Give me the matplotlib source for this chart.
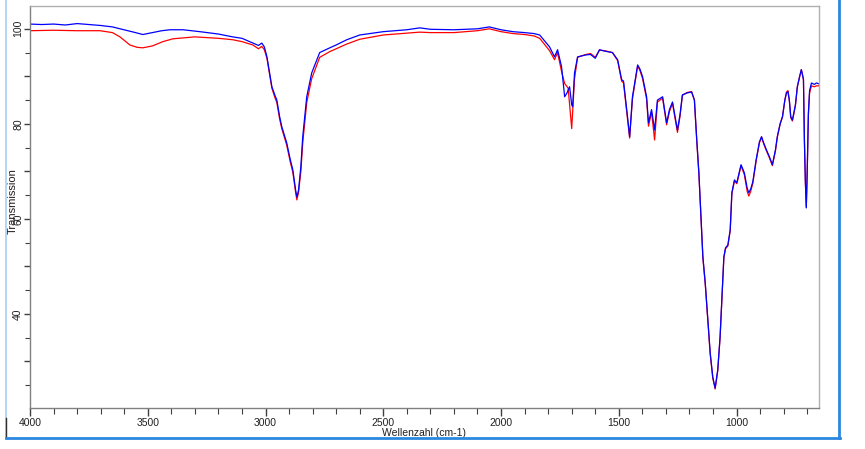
import matplotlib
matplotlib.use("Agg")
import matplotlib.pyplot as plt
from matplotlib.lines import Line2D
from matplotlib.ticker import MultipleLocator, FuncFormatter

# ---- data (wavenumber cm-1, transmission %) ----
blue_wn = [4000, 3950, 3900, 3850, 3800, 3750, 3700, 3650, 3600, 3560, 3521, 3480, 3440, 3406,
           3350, 3279, 3200, 3139, 3100, 3054, 3030, 3016, 3005, 2994, 2973, 2960, 2952, 2940,
           2931, 2910, 2895, 2884, 2872, 2867, 2860, 2850, 2842, 2825, 2804, 2770, 2727, 2700,
           2655, 2600, 2500, 2400, 2345, 2300, 2200, 2100, 2050, 2000, 1950, 1900, 1860, 1836,
           1794, 1773, 1760, 1743, 1730, 1720, 1709, 1700, 1696, 1688, 1675, 1640, 1620, 1600,
           1582, 1560, 1527, 1505, 1488, 1480, 1463, 1454, 1442, 1420, 1410, 1399, 1382, 1374,
           1361, 1348, 1336, 1314, 1297, 1285, 1272, 1251, 1240, 1230, 1210, 1191, 1179,
           1169, 1160, 1150, 1143, 1133, 1122, 1112, 1101, 1091, 1080, 1070, 1061, 1054, 1047,
           1037, 1027, 1020, 1009, 999, 990, 981, 967, 955, 948, 940, 931, 917, 903, 894, 885, 873,
           860, 848, 835, 827, 815, 805, 795, 788, 782, 776, 770, 763, 756, 750, 742, 732, 725,
           720, 716, 712, 708, 704, 700, 695, 690, 682, 670, 661, 650]
blue_t = [101.0, 100.9, 101.0, 100.8, 101.1, 100.9, 100.7, 100.4, 99.8, 99.3, 98.8, 99.2, 99.6, 99.8,
          99.8, 99.4, 98.9, 98.3, 98.0, 97.0, 96.5, 97.0, 96.2, 94.1, 87.8, 86.0, 85.0, 81.5,
          79.4, 76.0, 72.5, 70.3, 66.0, 64.6, 66.0, 71.0, 77.3, 85.7, 90.7, 95.0, 96.0, 96.6,
          97.7, 98.7, 99.4, 99.8, 100.2, 99.9, 99.8, 100.0, 100.4, 99.8, 99.4, 99.2, 99.0, 98.7,
          96.2, 94.1, 95.6, 92.0, 85.7, 86.5, 87.8, 84.0, 83.6, 90.7, 94.1, 94.5, 94.6, 93.8,
          95.6, 95.3, 95.0, 93.5, 89.3, 89.0, 81.5, 77.3, 85.7, 92.4, 91.5, 89.9, 85.7, 80.2,
          83.0, 78.7, 85.0, 85.7, 80.2, 83.0, 84.6, 78.7, 82.0, 86.1, 86.5, 86.7, 85.0,
          76.6, 69.7, 59.2, 52.0, 46.5, 38.7, 31.8, 26.7, 24.4, 28.2, 35.2, 44.4, 52.0, 53.9,
          54.5, 57.7, 65.5, 68.2, 67.6, 69.5, 71.4, 69.7, 66.5, 65.5, 66.3, 67.8, 72.4, 76.2, 77.3, 76.0, 74.5,
          73.0, 71.4, 74.5, 77.3, 80.0, 81.5, 85.0, 86.5, 86.8, 85.0, 81.5, 80.8, 82.5, 84.0, 87.8, 90.0, 91.4,
          90.3, 89.3, 76.6, 68.0, 62.3, 70.0, 82.3, 87.0, 88.6, 88.3, 88.6, 88.4]

red_wn = [4000, 3900, 3800, 3703, 3650, 3618, 3576, 3545, 3521, 3480, 3436, 3393, 3300, 3200,
          3139, 3100, 3054, 3030, 3016, 3005, 2994, 2973, 2960, 2952, 2940, 2931, 2910, 2895,
          2884, 2872, 2867, 2860, 2850, 2842, 2825, 2804, 2770, 2727, 2700, 2655, 2600, 2500,
          2400, 2345, 2300, 2200, 2100, 2050, 2000, 1950, 1900, 1860, 1836, 1794, 1773, 1760,
          1743, 1730, 1715, 1700, 1688, 1675, 1640, 1620, 1600, 1582, 1560, 1527, 1505, 1488,
          1480, 1463, 1454, 1442, 1420, 1410, 1399, 1382, 1374, 1361, 1348, 1336, 1314, 1297,
          1285, 1272, 1251, 1240, 1230, 1210, 1191, 1179,
          1169, 1160, 1150, 1143, 1133, 1122, 1112, 1101, 1091, 1080, 1070, 1061, 1054, 1047,
          1037, 1027, 1020, 1009, 999, 990, 981, 967, 955, 948, 940, 931, 917, 903, 894, 885, 873,
          860, 848, 835, 827, 815, 805,
          795, 788, 782, 776, 770, 763, 756, 750, 742, 732, 725, 720, 716, 712, 708, 704, 700,
          695, 690, 682, 670, 661, 650]
red_t = [99.6, 99.7, 99.6, 99.6, 99.2, 98.3, 96.6, 96.1, 96.0, 96.4, 97.3, 97.9, 98.3, 98.0,
         97.7, 97.3, 96.6, 95.8, 96.3, 95.6, 93.8, 87.5, 85.5, 84.5, 81.0, 79.0, 75.5, 72.0,
         69.8, 65.5, 64.0, 65.5, 70.0, 76.0, 84.5, 89.5, 94.0, 95.2, 95.8, 96.8, 97.8, 98.7,
         99.1, 99.3, 99.2, 99.2, 99.6, 100.0, 99.4, 99.0, 98.8, 98.5, 98.0, 95.4, 93.5, 95.0,
         91.0, 88.5, 87.5, 79.0, 89.5, 94.0, 94.6, 94.8, 94.0, 95.5, 95.4, 95.0, 93.3, 89.0,
         88.6, 81.0, 77.0, 85.3, 92.2, 91.2, 89.5, 85.2, 79.5, 82.5, 76.6, 84.6, 85.4, 79.8,
         82.6, 84.3, 78.2, 81.6, 86.0, 86.6, 86.8, 85.0,
         76.4, 69.5, 59.0, 51.8, 46.3, 38.5, 31.6, 26.5, 24.2, 28.0, 35.0, 44.2, 51.8, 53.7,
         54.3, 57.5, 65.3, 68.0, 67.4, 69.3, 71.2, 69.3, 65.8, 64.8, 65.8, 67.5, 72.2, 76.0, 77.2, 75.8, 74.3,
         72.8, 71.2, 74.3, 77.2, 80.0, 81.5,
         85.0, 86.7, 87.0, 85.0, 81.3, 80.6, 82.3, 84.0, 87.8, 90.0, 91.4, 90.3, 89.3, 76.6, 68.0, 62.5, 70.0,
         82.0, 86.5, 88.0, 87.8, 88.0, 88.0]

x_label = "Wellenzahl (cm-1)"
y_label = "Transmission"

W, H = 865, 449
fig = plt.figure(figsize=(W / 100, H / 100), dpi=100)
plt.rcParams['font.family'] = ['Liberation Sans', 'DejaVu Sans']

left, right, top, bottom = 30, 819, 6, 408
ax = fig.add_axes([left / W, 1 - bottom / H, (right - left) / W, (bottom - top) / H])

ax.plot(red_wn, red_t, color='#ff0000', lw=0.9)
ax.plot(blue_wn, blue_t, color='#0000ff', lw=0.9)

ax.set_xlim(4000, 650)
ax.set_ylim(20.2, 104.8)

ax.xaxis.set_major_locator(MultipleLocator(500))
ax.xaxis.set_minor_locator(MultipleLocator(100))
ax.yaxis.set_major_locator(MultipleLocator(10))
ax.yaxis.set_minor_locator(MultipleLocator(5))
ax.yaxis.set_major_formatter(FuncFormatter(lambda v, p: f"{int(round(v))}" if int(round(v)) % 20 == 0 else ""))

for s in ['top', 'right']:
    ax.spines[s].set_color('#b0b0b0')
for s in ['left', 'bottom']:
    ax.spines[s].set_color('#808080')
for s in ax.spines.values():
    s.set_linewidth(1.0)

ax.tick_params(axis='x', which='major', direction='out', length=6, width=1, color='#404040',
               labelsize=7.5, labelcolor='#202020', pad=1)
ax.tick_params(axis='x', which='minor', direction='out', length=4, width=0.8, color='#404040')
ax.tick_params(axis='y', which='major', direction='out', length=4, width=1, color='#404040',
               labelsize=7.5, labelcolor='#202020', pad=1, labelrotation=90)
ax.tick_params(axis='y', which='minor', direction='out', length=3.5, width=0.8, color='#404040')
for lab in ax.get_yticklabels():
    lab.set_va('center')

ax.set_xlabel(x_label, fontsize=7.5, labelpad=0, color='#202020')
ax.set_ylabel(y_label, fontsize=8, color='#202020')
ax.yaxis.set_label_coords((18 - left) / (right - left), (bottom - 201) / (bottom - top))

# window frame lines
fig.add_artist(Line2D([6 / W, 6 / W], [1 - 438 / H, 1], color='#a9cdf0', lw=1.2, transform=fig.transFigure))
fig.add_artist(Line2D([6 / W, 6 / W], [1 - 438 / H, 1 - 418 / H], color='#303030', lw=1.0, transform=fig.transFigure))
fig.add_artist(Line2D([6 / W, 840 / W], [1 - 438 / H, 1 - 438 / H], color='#2a88de', lw=2.0, transform=fig.transFigure))
fig.add_artist(Line2D([839 / W, 839 / W], [1 - 438 / H, 1], color='#2a88de', lw=2.0, transform=fig.transFigure))

fig.savefig("out.png", dpi=100)
